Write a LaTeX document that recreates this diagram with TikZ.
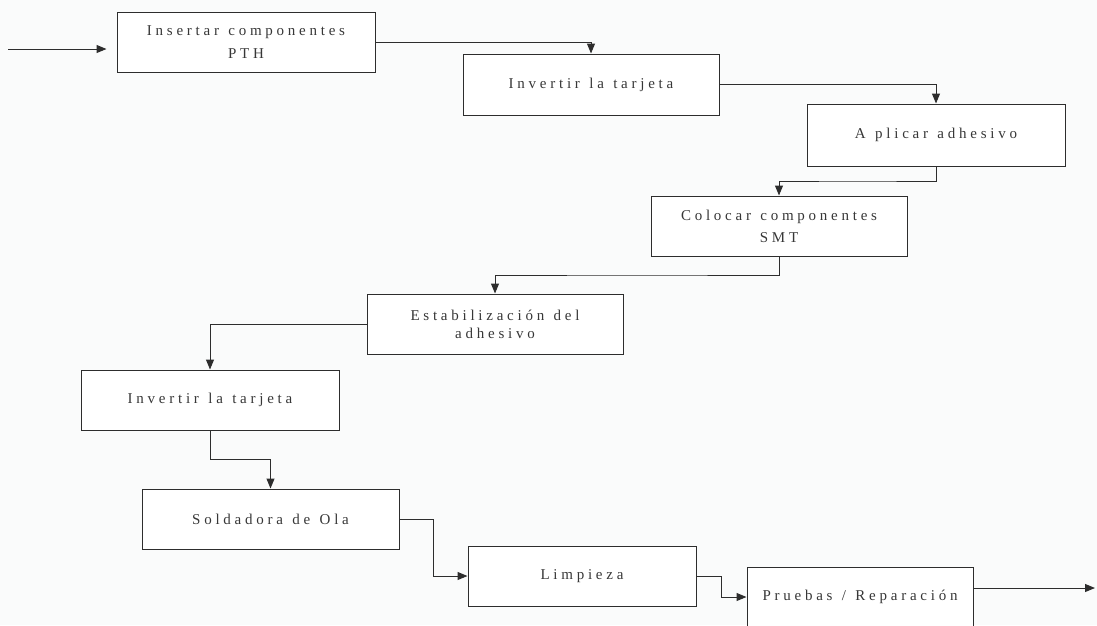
\documentclass[tikz,border=0pt]{standalone}
\usepackage{fontspec}
\setmainfont{Liberation Serif}[LetterSpace=25.0, WordSpace=1.25]
\usetikzlibrary{arrows.meta,calc}
\definecolor{paper}{RGB}{250,251,251}
\definecolor{ink}{RGB}{45,45,45}
\definecolor{txt}{RGB}{55,55,55}
\tikzset{
  stage/.style={draw=ink, line width=1pt, fill=white, inner sep=0pt,
    align=center, text=txt, font=\fontsize{15}{18}\selectfont},
  flow/.style={draw=ink, line width=1pt,
    -{Triangle[length=10pt,width=8pt]}},
}
\begin{document}
\begin{tikzpicture}[x=1pt,y=-1pt]
  % canvas
  \fill[paper] (0,0) rectangle (1097,625);
  \useasboundingbox (0,0) rectangle (1097,625);
  \clip (0,0) rectangle (1097,625);

  % process stages
  \node[stage, minimum width=258pt, minimum height=60pt] (B1) at (246,42) {Insertar componentes\\[5pt]PTH};
  \node[stage, minimum width=256pt, minimum height=61pt] (B2) at (591,84.5) {Invertir la tarjeta};
  \node[stage, minimum width=258pt, minimum height=62pt] (B3) at (936,135) {A plicar adhesivo};
  \node[stage, minimum width=256pt, minimum height=60pt] (B4) at (779,226) {Colocar componentes\\[4pt]SMT};
  \node[stage, minimum width=256pt, minimum height=60pt] (B5) at (495,324) {Estabilización del\\adhesivo};
  \node[stage, minimum width=258pt, minimum height=60pt] (B6) at (210,400) {Invertir la tarjeta};
  \node[stage, minimum width=257pt, minimum height=60pt] (B7) at (270.5,519) {Soldadora de Ola};
  \node[stage, minimum width=228pt, minimum height=60pt] (B8) at (582,576) {Limpieza};
  \node[stage, minimum width=226pt, minimum height=60pt] (B9) at (860,597) {Pruebas / Reparación};

  % entry and exit points
  \coordinate (in) at (8,49);
  \coordinate (out) at (1095,588);

  % connectors
  \draw[flow, shorten >=10pt] (in) -- (B1.west |- in);
  \draw[flow] (B1.east) -| (B2.north);
  \draw[flow] (B2.east) -| (B3.north);
  \draw[flow] (B3.south) |- ($(B3.south)!0.5!(B4.north)$) -| (B4.north);
  \draw[flow] (B4.south) |- ($(B4.south)!0.5!(B5.north)$) -| (B5.north);
  \draw[flow] (B5.west) -| (B6.north);
  \draw[flow] (B6.south) |- ($(B6.south)!0.5!(B7.north)$) -| (B7.north);
  \draw[flow] (B7.east) -| ($(B7.east)!0.5!(B8.west)$) |- (B8.west);
  \draw[flow] (B8.east) -| ($(B8.east)!0.5!(B9.west)$) |- (B9.west);
  \draw[flow] (B9.east |- out) -- (out);
\end{tikzpicture}
\end{document}
